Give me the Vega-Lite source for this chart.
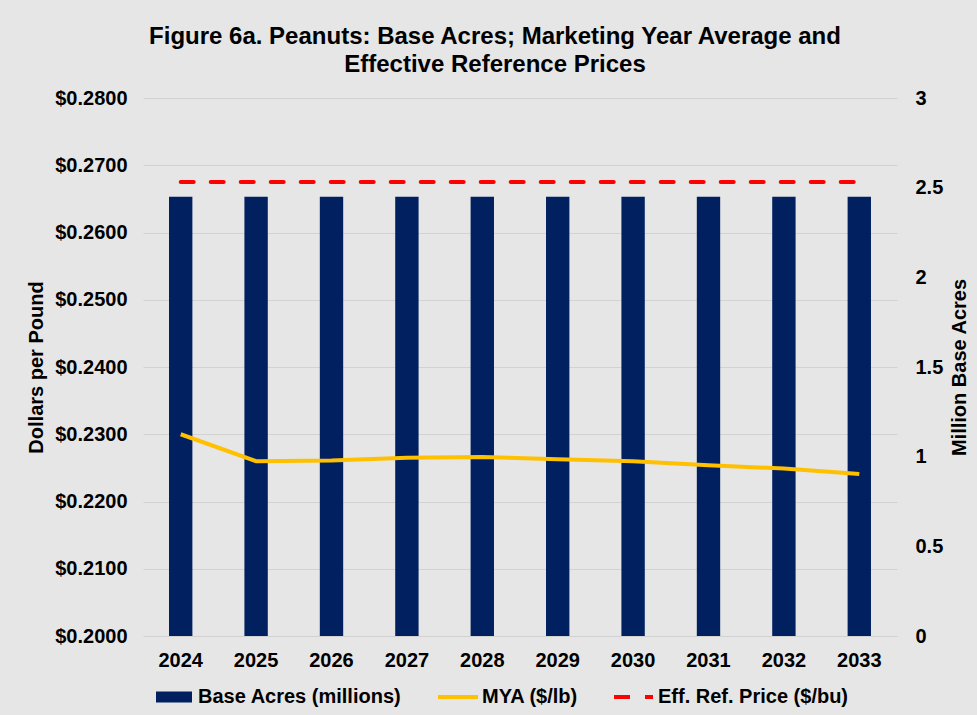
{
  "$schema": "https://vega.github.io/schema/vega-lite/v6.json",
  "width": 754,
  "height": 538,
  "autosize": {"type": "none"},
  "padding": {"left": 143, "top": 98, "right": 80, "bottom": 79},
  "background": "#e6e6e6",
  "config": {
    "view": {"stroke": null},
    "font": "Liberation Sans",
    "axis": {"labelFont": "Liberation Sans", "titleFont": "Liberation Sans", "labelFontWeight": "bold", "titleFontWeight": "bold", "labelColor": "#000000", "titleColor": "#000000", "labelFontSize": 20, "titleFontSize": 20, "ticks": false, "domain": false},
    "legend": {"labelFont": "Liberation Sans", "labelFontWeight": "bold", "labelFontSize": 20, "labelColor": "#000000", "labelLimit": 500}
  },
  "title": {
    "text": ["Figure 6a. Peanuts: Base Acres; Marketing Year Average and", "Effective Reference Prices"],
    "font": "Liberation Sans",
    "fontSize": 24,
    "fontWeight": "bold",
    "color": "#000000",
    "anchor": "middle",
    "dx": -25,
    "offset": 11,
    "lineHeight": 28
  },
  "data": {
    "values": [
      {"year": "2024", "acres": 2.45, "mya": 0.2300, "erp": 0.2675},
      {"year": "2025", "acres": 2.45, "mya": 0.2260, "erp": 0.2675},
      {"year": "2026", "acres": 2.45, "mya": 0.2261, "erp": 0.2675},
      {"year": "2027", "acres": 2.45, "mya": 0.2265, "erp": 0.2675},
      {"year": "2028", "acres": 2.45, "mya": 0.2266, "erp": 0.2675},
      {"year": "2029", "acres": 2.45, "mya": 0.2263, "erp": 0.2675},
      {"year": "2030", "acres": 2.45, "mya": 0.2260, "erp": 0.2675},
      {"year": "2031", "acres": 2.45, "mya": 0.2254, "erp": 0.2675},
      {"year": "2032", "acres": 2.45, "mya": 0.2249, "erp": 0.2675},
      {"year": "2033", "acres": 2.45, "mya": 0.2241, "erp": 0.2675}
    ]
  },
  "encoding": {
    "x": {
      "field": "year",
      "type": "nominal",
      "scale": {"paddingInner": 0.69, "paddingOuter": 0.345},
      "axis": {"title": null, "labelAngle": 0, "labelPadding": 14, "grid": false}
    }
  },
  "layer": [
    {
      "mark": {"type": "bar", "color": "#002060"},
      "encoding": {
        "y": {
          "field": "acres",
          "type": "quantitative",
          "scale": {"domain": [0, 3], "nice": false},
          "axis": {"orient": "right", "title": "Million Base Acres", "values": [0, 0.5, 1, 1.5, 2, 2.5, 3], "format": "~g", "grid": false, "labelPadding": 18, "titlePadding": 27, "titleAngle": 270}
        },
        "color": {
          "datum": "Base Acres (millions)",
          "scale": {"domain": ["Base Acres (millions)", "MYA ($/lb)", "Eff. Ref. Price ($/bu)"], "range": ["#002060", "#ffc000", "#ff0000"]},
          "legend": {
            "title": null,
            "orient": "none",
            "direction": "horizontal",
            "legendX": 11,
            "legendY": 579,
            "symbolSize": 1600,
            "labelOffset": 4,
            "columnPadding": 36,
            "encode": {
              "symbols": {
                "update": {
                  "shape": {"signal": "datum.value === 'Base Acres (millions)' ? 'M-0.9,-0.28H0.9V0.28H-0.9Z' : datum.value === 'MYA ($/lb)' ? 'M-1,-0.1H1V0.1H-1Z' : 'M-1,-0.1H-0.2V0.1H-1Z M0.55,-0.1H0.95V0.1H0.55Z'"},
                  "fill": {"signal": "datum.value === 'Base Acres (millions)' ? '#002060' : datum.value === 'MYA ($/lb)' ? '#ffc000' : '#ff0000'"},
                  "stroke": {"value": "transparent"},
                  "strokeWidth": {"value": 0},
                  "opacity": {"value": 1},
                  "fillOpacity": {"value": 1}
                }
              }
            }
          }
        }
      }
    },
    {
      "layer": [
        {
          "mark": {"type": "line", "strokeWidth": 4, "color": "#ffc000"},
          "encoding": {
            "y": {
              "field": "mya",
              "type": "quantitative",
              "scale": {"domain": [0.2, 0.28], "nice": false},
              "axis": {"orient": "left", "title": "Dollars per Pound", "values": [0.2, 0.21, 0.22, 0.23, 0.24, 0.25, 0.26, 0.27, 0.28], "format": "$.4f", "grid": true, "gridColor": "#d2d2d2", "gridWidth": 1, "labelPadding": 16, "titlePadding": 8}
            },
            "color": {"datum": "MYA ($/lb)"}
          }
        },
        {
          "mark": {"type": "line", "strokeWidth": 4, "strokeDash": [13, 17], "strokeCap": "round", "color": "#ff0000"},
          "encoding": {
            "y": {"field": "erp", "type": "quantitative"},
            "color": {"datum": "Eff. Ref. Price ($/bu)"}
          }
        }
      ]
    }
  ],
  "resolve": {"scale": {"y": "independent"}}
}
